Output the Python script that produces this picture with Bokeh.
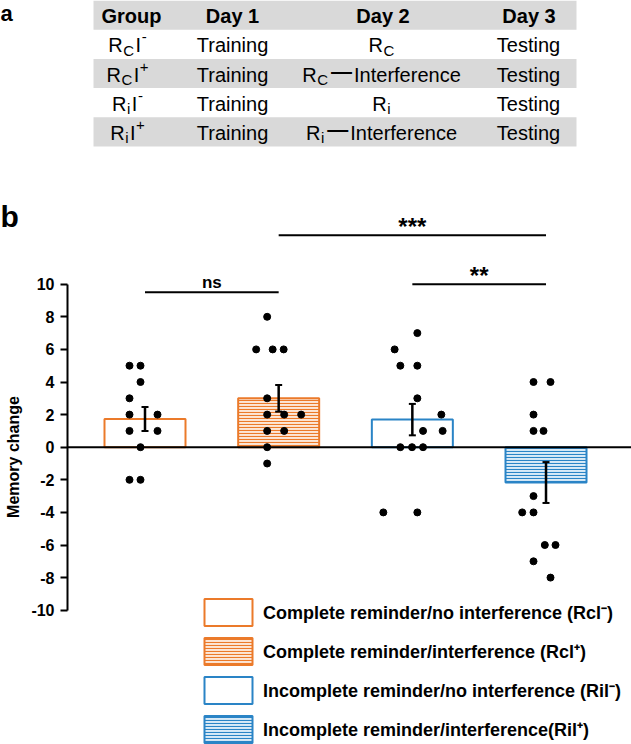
import numpy as np
from bokeh.plotting import figure
from bokeh.models import (Range1d, FixedTicker, Span, Whisker, TeeHead,
                          ColumnDataSource, Legend, LegendItem)
from bokeh.layouts import column, row
from bokeh.core.properties import value
from bokeh.embed import file_html
from bokeh.resources import INLINE

# ---------------- data ----------------
table_header = ["Group", "Day 1", "Day 2", "Day 3"]
# rich-text cells: (text, style) with style n=normal, sub, sup, dash
table_group = [
    [("R", "n"), ("C", "sub"), ("I", "n"), ("-", "sup")],
    [("R", "n"), ("C", "sub"), ("I", "n"), ("+", "sup")],
    [("R", "n"), ("i", "sub"), ("I", "n"), ("-", "sup")],
    [("R", "n"), ("i", "sub"), ("I", "n"), ("+", "sup")],
]
table_day1 = ["Training", "Training", "Training", "Training"]
table_day2 = [
    [("R", "n"), ("C", "sub")],
    [("R", "n"), ("C", "sub"), ("—", "dash"), ("Interference", "n")],
    [("R", "n"), ("i", "sub")],
    [("R", "n"), ("i", "sub"), ("—", "dash"), ("Interference", "n")],
]
table_day3 = ["Testing", "Testing", "Testing", "Testing"]

groups = ["RcI-", "RcI+", "RiI-", "RiI+"]
legend_labels = [
    "Complete reminder/no interference (Rcl\u207b)",
    "Complete reminder/interference (Rcl\u207a)",
    "Incomplete reminder/no interference (Ril\u207b)",
    "Incomplete reminder/interference(Ril\u207a)",
]
rci_minus = [5, 5, 4, 3, 2, 2, 1, 1, 0, -2, -2]
rci_plus = [8, 6, 6, 6, 3, 2, 2, 2, 1, 1, 0, -1]
rii_minus = [7, 6, 5, 5, 3, 2, 1, 1, 0, 0, 0, -4, -4]
rii_plus = [4, 4, 2, 1, 1, -3, -4, -4, -6, -6, -7, -8]
# horizontal scatter of the dots (pixels from bar centre)
rci_minus_jit = [-15.5, -4.5, -4.5, -15.5, -15.5, 12.5, -15.5, 12.5, -4.5, -15.5, -4.5]
rci_plus_jit = [-11.5, -22.5, -6, 5, -11.5, -11.5, 5.5, 22.5, -11.5, 5.5, -11.5, -11.5]
rii_minus_jit = [5, -17.7, -12, 5, 5, 29, 10.7, 30.3, -12, -0.3, 10.7, -29, 5]
rii_plus_jit = [-12.5, 4.5, -12.5, -12.5, -2.5, -12.5, -23.8, -12.5, -1.2, 9.5, -12.5, 4.5]

comparisons = [(1, 2, "ns"), (3, 4, "**"), (2, 4, "***")]
comparison_heights = [9.5, 10.0, 13.0]
y_ticks = [-10, -8, -6, -4, -2, 0, 2, 4, 6, 8, 10]
y_tick_labels = ["-10", "-8", "-6", "-4", "-2", "0", "2", "4", "6", "8", "10"]
y_label = "Memory change"
panel_labels = ["a", "b"]

# ---------------- styles ----------------
FONT = "Liberation Sans"
ORANGE = "#EB7A2A"
BLUE = "#2A84C6"
line_colors = [ORANGE, ORANGE, BLUE, BLUE]
fill_colors = ["white", "#FCE6D6", "white", "#D9EAF7"]
hatches = [None, "horizontal_line", None, "horizontal_line"]

PAGE_W = 631
TABLE_H = 158
CHART_H = 586
STRIP_W = 24
AXIS_X = 67          # page x of the y axis line
BASE_FIX = 7         # lift of alphabetic baselines (20px text)


def no_align(p):
    try:
        p.frame_align = False
    except Exception:
        pass


# ---------------- table (panel a) ----------------
pt = figure(width=PAGE_W, height=TABLE_H, x_range=Range1d(0, PAGE_W),
            y_range=Range1d(TABLE_H, 0), output_backend="svg",
            toolbar_location=None, min_border=0, x_axis_location=None,
            y_axis_location=None, outline_line_color=None)
pt.grid.visible = False
no_align(pt)

T_LEFT, T_RIGHT, T_TOP, ROW_H = 93, 576, 0, 29.2
col_x = [127, 232, 381, 528]
n_rows = 5
row_tops = [T_TOP + k * ROW_H for k in range(n_rows)]
band_rows = [0, 2, 4]
pt.quad(left=T_LEFT, right=T_RIGHT,
        top=[row_tops[k] for k in band_rows],
        bottom=[row_tops[k] + ROW_H for k in band_rows],
        fill_color="#D9D9D9", line_color=None)

base = [t + ROW_H / 2 + 8 - BASE_FIX for t in row_tops]

pt.text(x=[131, 232, 382.5, 528.5], y=[base[0] - 0.5] * 4, text=table_header,
        text_align="center", text_baseline="alphabetic", text_font=value(FONT),
        text_font_style="bold", text_font_size="20px", text_color="black")
pt.text(x=[col_x[1]] * 4 + [col_x[3]] * 4, y=base[1:] + base[1:],
        text=table_day1 + table_day3, text_align="center",
        text_baseline="alphabetic", text_font=value(FONT),
        text_font_size="20px", text_color="black")

W = {"R": .722, "C": .722, "I": .278, "i": .222, "-": .333, "+": .584,
     "—": 1.0, "n": .556, "t": .278, "e": .556, "r": .333, "f": .278, "c": .5}
SIZE = {"n": 20, "sub": 15, "sup": 15, "dash": 21}
DY = {"n": 0, "sub": 5, "sup": -8, "dash": -4}
GAP_AFTER = {"n": 0.5, "sub": 3, "sup": 0, "dash": 2}

pieces = {k: dict(x=[], y=[], text=[]) for k in SIZE}


def place(cell, cx, by):
    widths = [sum(W[ch] for ch in t) * SIZE[s] for t, s in cell]
    gaps = [GAP_AFTER[s] for _, s in cell[:-1]] + [0]
    if len(cell) == 4 and cell[2][1] == "n":
        gaps[1] = 1.5
    total = sum(widths) + sum(gaps)
    x = cx - total / 2
    for (t, s), w, g in zip(cell, widths, gaps):
        pieces[s]["x"].append(x)
        pieces[s]["y"].append(by + DY[s])
        pieces[s]["text"].append(t)
        x += w + g


for r in range(4):
    place(table_group[r], col_x[0], base[r + 1])
    place(table_day2[r], col_x[2], base[r + 1])

for s, d in pieces.items():
    if not d["x"]:
        continue
    pt.text(x=d["x"], y=d["y"], text=d["text"], text_align="left",
            text_baseline="alphabetic", text_font=value(FONT),
            text_font_style="bold" if s == "dash" else "normal",
            text_font_size=f"{SIZE[s]}px", text_color="black")

pt.text(x=[0], y=[20 - BASE_FIX], text=[panel_labels[0]], text_align="left",
        text_baseline="alphabetic", text_font=value(FONT), text_font_style="bold",
        text_font_size="22px", text_color="black")

# ---------------- chart (panel b) ----------------
px_per_cat = 133.67
X0 = 1 - (144.5 - AXIS_X) / px_per_cat
X1 = X0 + (PAGE_W - AXIS_X) / px_per_cat
px_per_unit = 16.3
zero_y = 446.7 - TABLE_H
Y1 = zero_y / px_per_unit
Y0 = -(CHART_H - zero_y) / px_per_unit

# left strip holding the panel letter and the y-axis title
ps = figure(width=STRIP_W, height=CHART_H, x_range=Range1d(0, STRIP_W),
            y_range=Range1d(Y0, Y1), output_backend="svg", toolbar_location=None,
            min_border=0, x_axis_location=None, y_axis_location=None,
            outline_line_color=None)
ps.grid.visible = False
no_align(ps)
ps.text(x=[13], y=[-0.6], text=[y_label], angle=np.pi / 2, text_align="center",
        text_baseline="middle", text_font=value(FONT), text_font_style="bold",
        text_font_size="16px", text_color="black")
ps.text(x=[0], y=[(446.7 - 225 + 9) / px_per_unit], text=[panel_labels[1]],
        text_align="left", text_baseline="alphabetic", text_font=value(FONT),
        text_font_style="bold", text_font_size="30px", text_color="black")

pc = figure(width=PAGE_W - STRIP_W, height=CHART_H, x_range=Range1d(X0, X1),
            y_range=Range1d(Y0, Y1), output_backend="svg",
            toolbar_location=None, min_border_left=AXIS_X - STRIP_W,
            min_border_right=0, min_border_top=0, min_border_bottom=0,
            x_axis_location=None, outline_line_color=None)
pc.grid.visible = False
no_align(pc)

ax = pc.yaxis[0]
ax.bounds = (-10, 10)
ax.ticker = FixedTicker(ticks=y_ticks)
ax.major_label_overrides = {t: l for t, l in zip(y_ticks, y_tick_labels)}
ax.axis_line_width = 2
ax.axis_line_color = "black"
ax.major_tick_line_width = 2
ax.major_tick_line_color = "black"
ax.major_tick_out = 7
ax.major_tick_in = 0
ax.minor_tick_line_color = None
ax.major_label_text_font = FONT
ax.major_label_text_font_style = "bold"
ax.major_label_text_font_size = "16px"
ax.major_label_text_color = "black"
ax.major_label_standoff = 6

series = [rci_minus, rci_plus, rii_minus, rii_plus]
jitters = [rci_minus_jit, rci_plus_jit, rii_minus_jit, rii_plus_jit]
xpos = [1, 2, 3, 4]
means = [float(np.mean(s)) for s in series]
sems = [float(np.std(s, ddof=1) / np.sqrt(len(s))) for s in series]

bar_renderers = []
for i in range(4):
    kw = dict(x=[xpos[i]], top=[means[i]], bottom=0, width=81 / px_per_cat,
              fill_color=fill_colors[i], line_color=line_colors[i], line_width=2)
    if hatches[i]:
        kw.update(hatch_pattern=hatches[i], hatch_color=line_colors[i],
                  hatch_scale=3, hatch_weight=1.1)
    bar_renderers.append(pc.vbar(**kw))

pc.add_layout(Span(location=0, dimension="width", line_color="black", line_width=2))

px_all, py_all = [], []
for i in range(4):
    for v, j in zip(series[i], jitters[i]):
        px_all.append(xpos[i] + j / px_per_cat)
        py_all.append(v)
pc.scatter(x=px_all, y=py_all, size=7, color="black")

err = ColumnDataSource(data=dict(base=xpos,
                                 upper=[m + s for m, s in zip(means, sems)],
                                 lower=[m - s for m, s in zip(means, sems)]))
pc.add_layout(Whisker(base="base", upper="upper", lower="lower", source=err,
                      dimension="height", line_width=2.5, line_color="black",
                      level="annotation",
                      upper_head=TeeHead(size=7, line_width=2, line_color="black"),
                      lower_head=TeeHead(size=7, line_width=2, line_color="black")))

pc.segment(x0=[c[0] for c in comparisons], x1=[c[1] for c in comparisons],
           y0=comparison_heights, y1=comparison_heights, line_width=2,
           line_color="black")
sig_size = {"ns": "17px", "**": "24px", "***": "24px"}
sig_raise_px = {"ns": 10, "**": 9, "***": 9}
for (a, b, t), h in zip(comparisons, comparison_heights):
    pc.text(x=[(a + b) / 2], y=[h + sig_raise_px[t] / px_per_unit], text=[t],
            text_align="center", text_baseline="alphabetic", text_font=value(FONT),
            text_font_style="bold", text_font_size=sig_size[t], text_color="black")

legend = Legend(items=[LegendItem(label=legend_labels[i], renderers=[bar_renderers[i]])
                       for i in range(4)],
                location=(131, -2), orientation="vertical", glyph_width=60,
                glyph_height=34, spacing=5, label_standoff=5, padding=0, margin=0,
                border_line_color=None, background_fill_alpha=0,
                label_text_font=FONT, label_text_font_style="bold",
                label_text_font_size="18px", label_text_color="black")
pc.add_layout(legend)

layout = column(pt, row(ps, pc))
open("out.html", "w").write(file_html(layout, INLINE))
